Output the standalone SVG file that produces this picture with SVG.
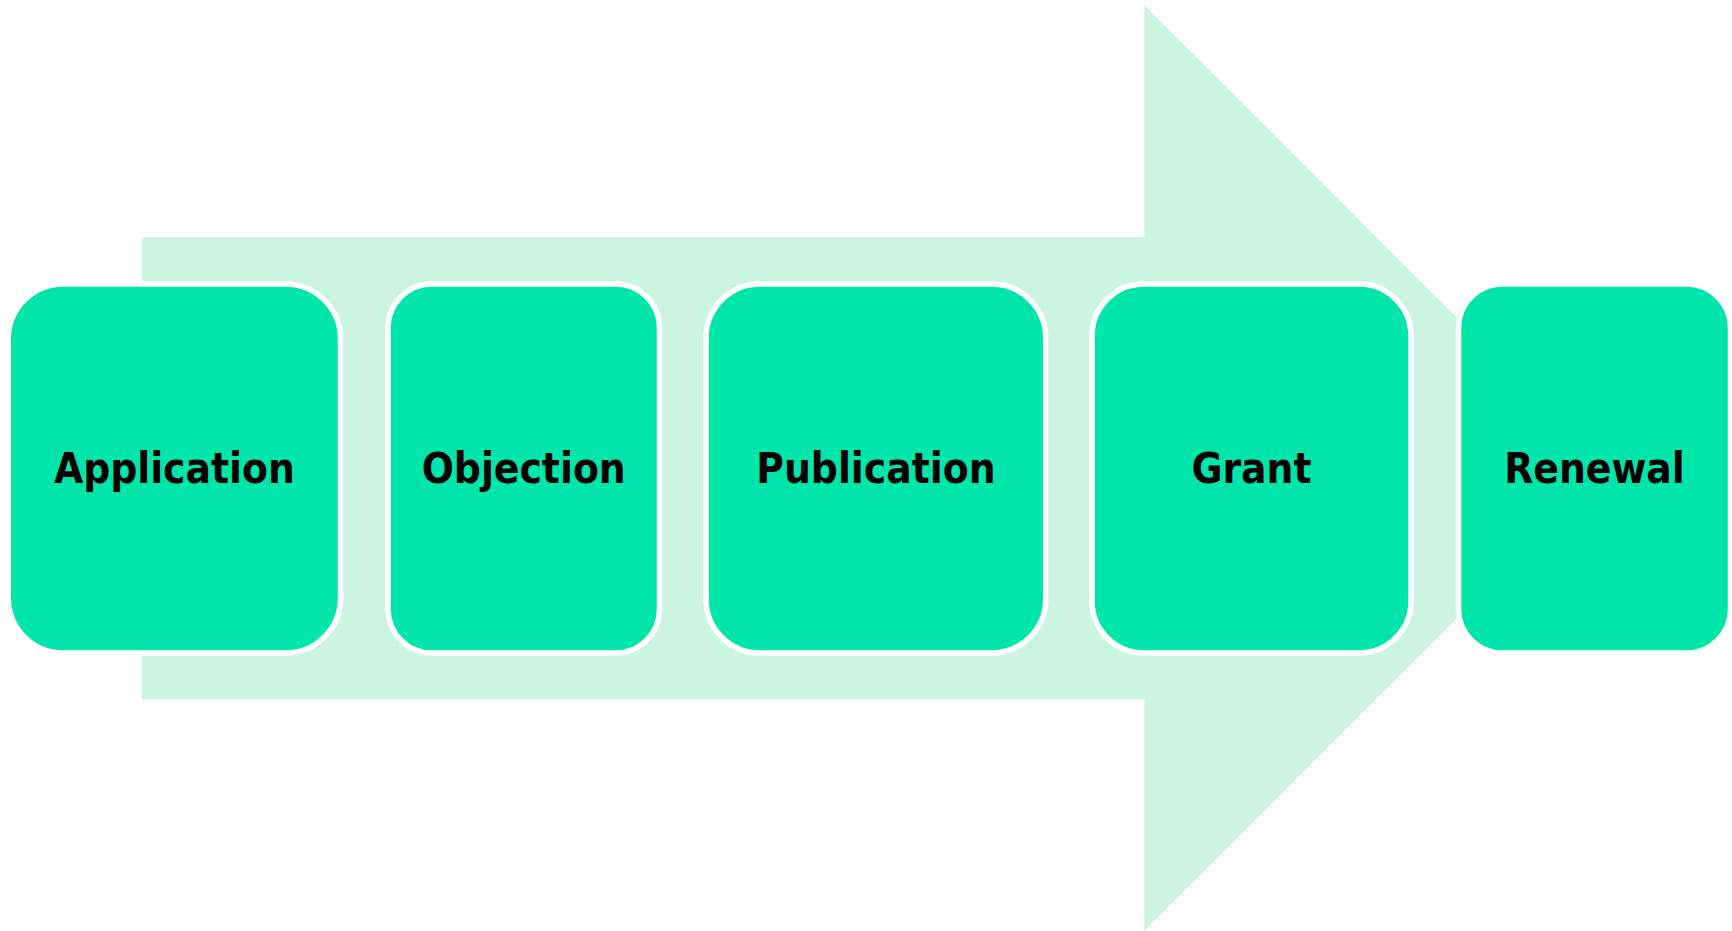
<svg xmlns="http://www.w3.org/2000/svg" width="1732" height="931" viewBox="0 0 1732 931">
<style>
.box{fill:#00E5AA;stroke:#FFFFFF;stroke-width:5.5}
.lbl{font-family:"DejaVu Sans Condensed","DejaVu Sans",Verdana,sans-serif;font-stretch:condensed;font-weight:bold;font-size:42px;fill:#000000;text-anchor:middle}
</style>
<rect width="1732" height="931" fill="#FFFFFF"/>
<g id="arrow">
<polygon points="142,237 1144.3,237 1144.3,5 1607.3,468 1144.3,931 1144.3,699.3 142,699.3" fill="#CCF5E1"/>
</g>
<g id="connectors"></g>
<g id="node-application">
<rect class="box" x="8.25" y="284" width="332.25" height="369" rx="55" ry="55"/>
<text class="lbl" x="174.4" y="483">Application</text>
</g>
<g id="node-objection">
<rect class="box" x="388" y="284" width="271.5" height="369" rx="44" ry="44"/>
<text class="lbl" x="523.75" y="483">Objection</text>
</g>
<g id="node-publication">
<rect class="box" x="706" y="284" width="339.7" height="369" rx="54" ry="54"/>
<text class="lbl" x="875.9" y="483">Publication</text>
</g>
<g id="node-grant">
<rect class="box" x="1092" y="284" width="319" height="369" rx="52" ry="52"/>
<text class="lbl" x="1251.5" y="483">Grant</text>
</g>
<g id="node-renewal">
<rect class="box" x="1458.5" y="284" width="272" height="369" rx="44" ry="44"/>
<text class="lbl" x="1594.5" y="483">Renewal</text>
</g>
</svg>
